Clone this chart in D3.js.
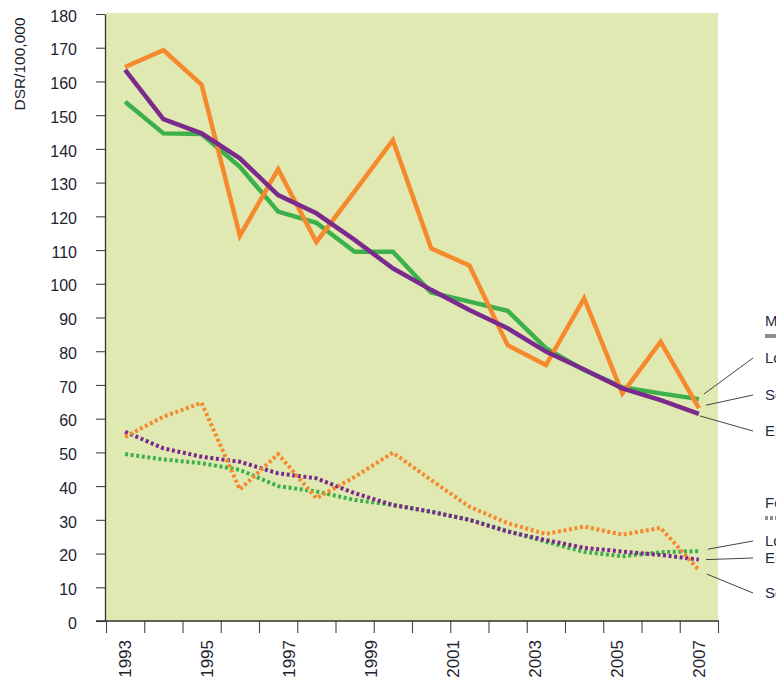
<!DOCTYPE html>
<html>
<head>
<meta charset="utf-8">
<script src="https://cdn.jsdelivr.net/npm/d3@7"></script>
<style>
  html, body { margin: 0; padding: 0; background: #fff; }
  svg { display: block; font-family: "Liberation Sans", Arial, sans-serif; }
</style>
</head>
<body>
<svg id="chart" width="776" height="686"></svg>
<script>
// Sixteen reporting points; year labels run from the first to the last point
const periods = d3.range(16);
const yearLabels = [1993, 1995, 1997, 1999, 2001, 2003, 2005, 2007];
const yTicks = d3.range(0, 181, 10);

// Males, DSR per 100,000
const maleLondon    = [154.0, 144.6, 144.4, 134.7, 121.4, 118.1, 109.5, 109.5, 97.4, 94.7, 92.0, 80.9, 74.4, 69.3, 67.5, 65.8];
const maleSouthwark = [164.3, 169.3, 159.0, 114.2, 134.0, 112.4, 127.4, 142.6, 110.5, 105.4, 81.8, 75.9, 95.7, 67.5, 82.8, 63.1];
const maleEngland   = [163.4, 148.8, 144.6, 137.2, 126.3, 120.9, 113.0, 104.6, 98.2, 92.2, 86.8, 79.9, 74.6, 69.0, 65.5, 61.4];

// Females, DSR per 100,000
const femaleLondon    = [49.5, 47.9, 46.8, 44.8, 40.0, 38.4, 35.9, 34.4, 32.4, 30.0, 26.7, 23.5, 20.5, 19.2, 20.4, 20.7];
const femaleSouthwark = [54.6, 60.6, 64.7, 39.0, 49.5, 36.4, 42.7, 49.9, 41.8, 33.9, 29.0, 25.8, 28.0, 25.6, 27.6, 15.1];
const femaleEngland   = [56.1, 51.2, 48.7, 47.2, 43.8, 42.3, 37.9, 34.4, 32.4, 30.0, 26.5, 24.0, 21.7, 20.6, 19.6, 18.2];

const colors = { london: "#3cb04a", southwark: "#f6892e", england: "#7a2a8c" };

const svg = d3.select("#chart");
const plot = { left: 106, right: 718, top: 14, bottom: 621 };

// Slot scale: each reporting point sits in the middle of its slot
const xSlot = d3.scaleLinear().domain([0, periods.length]).range([plot.left, plot.right]);
const xPt = i => xSlot(i + 0.5);
const y = d3.scaleLinear().domain([0, 180]).range([plot.bottom, plot.top]);
const xYear = d3.scaleLinear()
  .domain([yearLabels[0], yearLabels[yearLabels.length - 1]])
  .range([xPt(0), xPt(periods.length - 1)]);

// Plot background
svg.append("rect")
  .attr("x", plot.left).attr("y", plot.top - 1)
  .attr("width", plot.right - plot.left).attr("height", plot.bottom - plot.top + 1)
  .attr("fill", "#dfe9b1");

// Y axis
const yAxis = svg.append("g")
  .attr("transform", `translate(${plot.left - 1},0)`)
  .call(d3.axisLeft(y).tickValues(yTicks).tickSize(9).tickPadding(19).tickSizeOuter(0));
yAxis.select(".domain").attr("stroke", "#333").attr("stroke-width", 1.3);
yAxis.selectAll(".tick line").attr("stroke", "#444").attr("stroke-width", 1.1);
yAxis.selectAll(".tick text")
  .attr("font-size", 16).attr("fill", "#23232e").attr("dy", "0.45em");

// X axis: slot boundaries as ticks
const xAxis = svg.append("g")
  .attr("transform", `translate(0,${plot.bottom})`)
  .call(d3.axisBottom(xSlot).tickValues(d3.range(periods.length + 1)).tickSize(12).tickFormat(""));
xAxis.select(".domain").remove();
xAxis.append("line")
  .attr("x1", plot.left - 10).attr("x2", plot.right + 1)
  .attr("stroke", "#333").attr("stroke-width", 1.3);
xAxis.selectAll(".tick line").attr("stroke", "#444").attr("stroke-width", 1.1);

// Year labels, rotated
svg.append("g").selectAll("text")
  .data(yearLabels)
  .join("text")
  .attr("transform", d => `translate(${xYear(d)},640) rotate(-90)`)
  .attr("text-anchor", "end")
  .attr("dy", "0.36em")
  .attr("font-size", 17)
  .attr("fill", "#23232e")
  .text(d => d);

// Y axis title
svg.append("text")
  .attr("transform", "translate(19,64) rotate(-90)")
  .attr("text-anchor", "middle")
  .attr("dy", "0.36em")
  .attr("font-size", 15.5)
  .attr("fill", "#23232e")
  .text("DSR/100,000");

// Series lines
const line = d3.line().x((d, i) => xPt(i)).y(d => y(d));
const series = [
  { values: maleLondon, color: colors.london, dotted: false },
  { values: maleSouthwark, color: colors.southwark, dotted: false },
  { values: maleEngland, color: colors.england, dotted: false },
  { values: femaleLondon, color: colors.london, dotted: true },
  { values: femaleEngland, color: colors.england, dotted: true },
  { values: femaleSouthwark, color: colors.southwark, dotted: true }
];
svg.append("g").selectAll("path")
  .data(series)
  .join("path")
  .attr("d", d => line(d.values))
  .attr("fill", "none")
  .attr("stroke", d => d.color)
  .attr("stroke-width", d => d.dotted ? 4 : 4.5)
  .attr("stroke-dasharray", d => d.dotted ? "3,2.6" : null)
  .attr("stroke-linejoin", "miter");

// Legend with leader lines
const legend = svg.append("g").attr("font-size", 15).attr("fill", "#1d2a4a");
function legendBlock(title, baseY, dashed, items) {
  legend.append("text").attr("x", 765).attr("y", baseY).text(title);
  legend.append("line")
    .attr("x1", 765).attr("x2", 790)
    .attr("y1", baseY + 10).attr("y2", baseY + 10)
    .attr("stroke", "#8b8e9c").attr("stroke-width", 4)
    .attr("stroke-dasharray", dashed ? "3,2" : null);
  items.forEach(it => {
    const endVal = it.values[it.values.length - 1];
    legend.append("line")
      .attr("x1", xPt(periods.length - 1) + it.gap).attr("y1", y(endVal) + it.shift)
      .attr("x2", 753).attr("y2", it.labelY - 5)
      .attr("stroke", "#444").attr("stroke-width", 1);
    legend.append("text").attr("x", 765).attr("y", it.labelY).text(it.name);
  });
}
legendBlock("Males", 326, false, [
  { name: "London", values: maleLondon, labelY: 363, gap: 5, shift: -5 },
  { name: "Southwark", values: maleSouthwark, labelY: 400, gap: 7, shift: -3 },
  { name: "England", values: maleEngland, labelY: 436, gap: 1, shift: 2 }
]);
legendBlock("Females", 508, true, [
  { name: "London", values: femaleLondon, labelY: 546, gap: 9, shift: -2 },
  { name: "England", values: femaleEngland, labelY: 563, gap: 7, shift: 0 },
  { name: "Southwark", values: femaleSouthwark, labelY: 598, gap: 8, shift: 4 }
]);
</script>
</body>
</html>
